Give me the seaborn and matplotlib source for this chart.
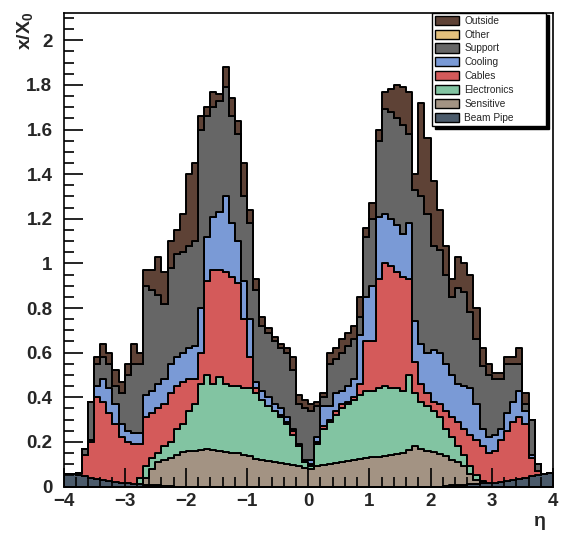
import numpy as np
import pandas as pd
import matplotlib
matplotlib.use("Agg")
import matplotlib.pyplot as plt
from matplotlib.patches import Patch
from matplotlib.ticker import MultipleLocator, FormatStrFormatter
import seaborn as sns

# bins: 80 bins of 0.1 in eta
eta_centers = np.round(np.arange(-3.95, 4.0, 0.1), 2)

# legend order (top of the stack first)
materials = ["Outside", "Other", "Support", "Cooling", "Cables", "Electronics", "Sensitive", "Beam Pipe"]
colors = ["#5e4236", "#e3c07c", "#666666", "#7a9ad6", "#d45a5a", "#82c4a2", "#a39383", "#4b5b6b"]

# cumulative x/X0: upper edge of each layer
top_beampipe = [.058, .055, .05, .045, .04, .035, .03, .025, .02, .018,
                .015, .012, .01, .008, .006, .005, .004, .003, 0, 0,
                0, 0, 0, 0, 0, 0, 0, 0, 0, 0,
                0, 0, 0, 0, 0, 0, 0, 0, 0, 0,
                0, 0, 0, 0, 0, 0, 0, 0, 0, 0,
                0, 0, 0, 0, 0, 0, 0, 0, 0, 0,
                0, 0, .003, .005, .006, .008, .01, .012, .014, .016,
                .018, .022, .026, .03, .035, .04, .045, .05, .055, .06]
top_sensitive = [.058, .055, .05, .045, .04, .035, .03, .025, .02, .018,
                 .015, .012, .012, .04, .08, .11, .12, .13, .14, .155,
                 .157, .16, .163, .17, .165, .16, .155, .15, .148, .14,
                 .135, .125, .12, .115, .11, .105, .10, .095, .09, .082,
                 .08, .09, .095, .10, .105, .11, .115, .12, .125, .13,
                 .132, .134, .136, .14, .145, .15, .165, .18, .17, .16,
                 .155, .145, .135, .12, .11, .09, .055, .03, .018, .016,
                 .018, .022, .026, .03, .035, .04, .045, .05, .055, .06]
top_electronics = [.058, .055, .05, .045, .04, .035, .03, .025, .02, .018,
                   .015, .012, .04, .09, .13, .15, .18, .20, .26, .28,
                   .34, .37, .46, .50, .46, .49, .46, .45, .45, .44,
                   .44, .42, .39, .36, .34, .31, .28, .23, .18, .11,
                   .09, .19, .26, .29, .32, .35, .37, .39, .41, .43,
                   .43, .44, .45, .44, .44, .43, .50, .42, .38, .36,
                   .34, .31, .26, .22, .18, .14, .09, .05, .025, .016,
                   .018, .022, .026, .03, .035, .04, .045, .05, .055, .06]
top_cables = [.058, .055, .06, .14, .20, .40, .38, .33, .28, .22,
              .20, .19, .19, .31, .33, .35, .37, .42, .45, .47,
              .48, .48, .60, .92, .97, .97, .96, .94, .91, .75,
              .58, .44, .39, .36, .34, .32, .29, .25, .18, .11,
              .10, .20, .27, .30, .34, .37, .38, .40, .46, .65,
              .65, .93, 1.00, .99, .96, .94, .93, .56, .46, .42,
              .38, .37, .34, .31, .29, .26, .23, .21, .18, .15,
              .16, .21, .25, .29, .31, .28, .13, .07, .055, .06]
top_cooling = [.058, .055, .06, .14, .21, .45, .48, .44, .37, .28,
               .25, .24, .24, .41, .43, .46, .48, .55, .58, .60,
               .62, .63, .80, 1.12, 1.21, 1.23, 1.30, 1.18, 1.10, .92,
               .75, .47, .43, .40, .37, .35, .31, .26, .19, .12,
               .12, .22, .36, .36, .42, .43, .45, .48, .68, .85,
               .90, 1.21, 1.22, 1.20, 1.17, 1.13, 1.18, .74, .64, .60,
               .61, .60, .55, .50, .46, .45, .44, .37, .26, .22,
               .23, .26, .33, .38, .43, .34, .14, .07, .055, .06]
top_support = [.058, .055, .06, .17, .38, .55, .58, .55, .45, .42,
               .50, .55, .55, .90, .88, .86, .82, .98, 1.04, 1.05,
               1.08, 1.10, 1.60, 1.66, 1.70, 1.73, 1.79, 1.66, 1.58, 1.30,
               1.18, .88, .72, .69, .65, .62, .60, .52, .37, .35,
               .34, .36, .40, .55, .57, .60, .63, .66, .76, 1.12,
               1.20, 1.55, 1.69, 1.68, 1.65, 1.62, 1.58, 1.33, 1.30, 1.22,
               1.08, 1.06, .95, .85, .89, .87, .78, .66, .54, .50,
               .48, .48, .55, .55, .55, .37, .30, .10, .055, .06]
top_outside = [.058, .055, .06, .17, .38, .58, .64, .60, .52, .47,
               .55, .64, .60, .97, .97, 1.03, .96, 1.10, 1.15, 1.22,
               1.40, 1.45, 1.66, 1.70, 1.77, 1.76, 1.88, 1.74, 1.64, 1.45,
               1.24, .93, .76, .71, .67, .64, .62, .58, .41, .39,
               .37, .38, .42, .60, .62, .66, .69, .72, .85, 1.16,
               1.27, 1.60, 1.77, 1.78, 1.80, 1.79, 1.77, 1.40, 1.72, 1.56,
               1.37, 1.24, 1.08, .93, 1.03, 1.00, .95, .80, .62, .55,
               .51, .51, .58, .58, .62, .42, .30, .10, .055, .06]

stack_order = materials[::-1]  # bottom -> top
tops = np.array([top_beampipe, top_sensitive, top_electronics, top_cables,
                 top_cooling, top_support, top_support, top_outside])
thickness = np.clip(np.diff(tops, axis=0, prepend=0), 0, None)

df = pd.DataFrame({
    "eta": np.tile(eta_centers, len(stack_order)),
    "material": np.repeat(stack_order, len(eta_centers)),
    "x0": thickness.ravel(),
})

sns.set_style("white")
plt.rcParams["font.family"] = ["Liberation Sans", "DejaVu Sans"]
plt.rcParams["mathtext.default"] = "regular"

fig = plt.figure(figsize=(5.63, 5.33), dpi=100)
ax = fig.add_axes([0.1128, 0.0872, 0.8694, 0.8875])

sns.histplot(df, x="eta", weights="x0", hue="material", hue_order=materials,
             multiple="stack", element="step", bins=80, binrange=(-4, 4),
             palette=dict(zip(materials, colors)), alpha=1,
             edgecolor="black", linewidth=1.4, legend=False, ax=ax)

# ticks drawn over the fills, as in ROOT
for coll in ax.collections:
    coll.set_zorder(1)
ax.set_axisbelow(False)
ax.xaxis.set_zorder(5)
ax.yaxis.set_zorder(5)

ax.set_xlim(-4, 4)
ax.set_ylim(0, 2.12)
ax.xaxis.set_major_locator(MultipleLocator(1))
ax.xaxis.set_minor_locator(MultipleLocator(0.2))
ax.yaxis.set_major_locator(MultipleLocator(0.2))
ax.yaxis.set_minor_locator(MultipleLocator(0.05))
ax.yaxis.set_major_formatter(FormatStrFormatter("%g"))
ax.tick_params(which="both", direction="in", bottom=True, left=True, top=False, right=False,
               width=1.2, color="black")
ax.tick_params(which="major", length=14, labelsize=13.5)
ax.tick_params(axis="y", which="major", pad=8)
ax.tick_params(axis="x", which="major", pad=5)
ax.tick_params(which="minor", length=7)
for lab in ax.get_xticklabels() + ax.get_yticklabels():
    lab.set_fontweight("bold")
for sp in ax.spines.values():
    sp.set_color("black")
    sp.set_linewidth(1.2)
    sp.set_zorder(5)
ax.set_xlabel("")
ax.set_ylabel("")

fig.text(25 / 563, 1 - 12 / 533, r"$x/X_0$", rotation=90, ha="center", va="top",
         fontsize=14, fontweight="bold")
fig.text(540 / 563, 1 - 521 / 533, "η", ha="center", va="center",
         fontsize=14, fontweight="bold")

handles = [Patch(facecolor=c, edgecolor="black", linewidth=1) for c in colors]
leg = fig.legend(handles, materials, loc="upper left",
                 bbox_to_anchor=(432 / 563, 1 - 18 / 533, 114 / 563, 0.01), mode="expand",
                 fontsize=7.3, handlelength=2.4, handleheight=1.0, labelspacing=0.38,
                 borderpad=0.3, handletextpad=0.5, frameon=True, fancybox=False,
                 shadow={"color": "black", "alpha": 1}, borderaxespad=0)
leg.get_frame().set_edgecolor("black")
leg.get_frame().set_linewidth(1.0)

fig.savefig("out.png", dpi=100, facecolor="white")
